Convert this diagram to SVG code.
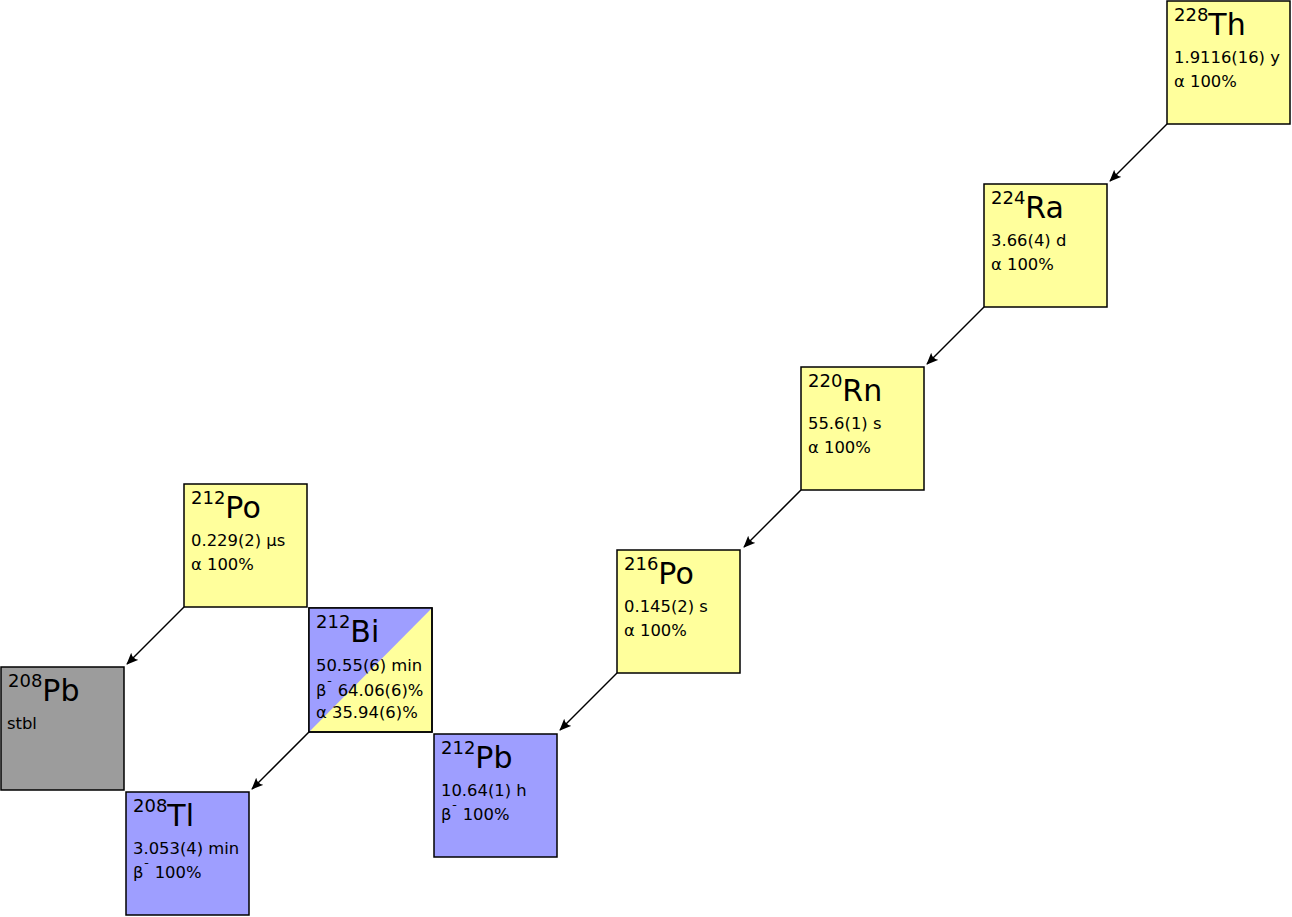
<svg xmlns="http://www.w3.org/2000/svg" width="1292" height="917" viewBox="0 0 1292 917">
<defs>
<style>
.box{stroke:#000;stroke-width:1.5}
.a{fill:#ffff9c}
.b{fill:#9e9eff}
.s{fill:#9c9c9c}
text{font-family:"DejaVu Sans","Liberation Sans",sans-serif;fill:#000}
.sup{font-size:18px}
.sym{font-size:30px}
.t{font-size:16.4px}
.m{font-size:12px}
.arr{stroke:#000;stroke-width:1.5;fill:none;marker-end:url(#ah)}
</style>
<marker id="ah" viewBox="0 0 14 12" refX="12" refY="6" markerWidth="13" markerHeight="11" orient="auto" markerUnits="userSpaceOnUse">
<path d="M0,0.5 L13,6 L0,11.5 Q4,6 0,0.5 Z" fill="#000"/>
</marker>
</defs>
<g id="connectors">
<line class="arr" x1="1167" y1="124" x2="1110" y2="181"/>
<line class="arr" x1="984" y1="307" x2="927" y2="364"/>
<line class="arr" x1="801" y1="490" x2="744" y2="547"/>
<line class="arr" x1="617" y1="673" x2="560" y2="730"/>
<line class="arr" x1="309" y1="732" x2="252" y2="789"/>
<line class="arr" x1="184" y1="607" x2="127" y2="664"/>
</g>
<g id="Th228">
<rect class="box a" x="1167" y="1" width="123" height="123"/>
<text x="1174" y="21"><tspan class="sup">228</tspan><tspan class="sym" dy="14">Th</tspan></text>
<text class="t" x="1174" y="63">1.9116(16) y</text>
<text class="t" x="1174" y="87">α 100%</text>
</g>
<g id="Ra224">
<rect class="box a" x="984" y="184" width="123" height="123"/>
<text x="991" y="204"><tspan class="sup">224</tspan><tspan class="sym" dy="14">Ra</tspan></text>
<text class="t" x="991" y="246">3.66(4) d</text>
<text class="t" x="991" y="270">α 100%</text>
</g>
<g id="Rn220">
<rect class="box a" x="801" y="367" width="123" height="123"/>
<text x="808" y="387"><tspan class="sup">220</tspan><tspan class="sym" dy="14">Rn</tspan></text>
<text class="t" x="808" y="429">55.6(1) s</text>
<text class="t" x="808" y="453">α 100%</text>
</g>
<g id="Po216">
<rect class="box a" x="617" y="550" width="123" height="123"/>
<text x="624" y="570"><tspan class="sup">216</tspan><tspan class="sym" dy="14">Po</tspan></text>
<text class="t" x="624" y="612">0.145(2) s</text>
<text class="t" x="624" y="636">α 100%</text>
</g>
<g id="Pb212">
<rect class="box b" x="434" y="734" width="123" height="123"/>
<text x="441" y="754"><tspan class="sup">212</tspan><tspan class="sym" dy="14">Pb</tspan></text>
<text class="t" x="441" y="796">10.64(1) h</text>
<text class="t" x="441" y="820">β<tspan class="m" dy="-6">ˉ</tspan><tspan dy="6"> 100%</tspan></text>
</g>
<g id="Bi212">
<rect class="box a" x="309" y="608" width="123" height="124"/>
<path class="b" d="M309,608 L432,608 L309,732 Z"/>
<rect x="309" y="608" width="123" height="124" fill="none" stroke="#000" stroke-width="1.5"/>
<text x="316" y="628"><tspan class="sup">212</tspan><tspan class="sym" dy="14">Bi</tspan></text>
<text class="t" x="316" y="671">50.55(6) min</text>
<text class="t" x="316" y="696">β<tspan class="m" dy="-6">ˉ</tspan><tspan dy="6"> 64.06(6)%</tspan></text>
<text class="t" x="316" y="718">α 35.94(6)%</text>
</g>
<g id="Po212">
<rect class="box a" x="184" y="484" width="123" height="123"/>
<text x="191" y="504"><tspan class="sup">212</tspan><tspan class="sym" dy="14">Po</tspan></text>
<text class="t" x="191" y="546">0.229(2) µs</text>
<text class="t" x="191" y="570">α 100%</text>
</g>
<g id="Pb208">
<rect class="box s" x="1" y="667" width="123" height="123"/>
<text x="8" y="687"><tspan class="sup">208</tspan><tspan class="sym" dy="14">Pb</tspan></text>
<text class="t" x="7" y="729">stbl</text>
</g>
<g id="Tl208">
<rect class="box b" x="126" y="792" width="123" height="123"/>
<text x="133" y="812"><tspan class="sup">208</tspan><tspan class="sym" dy="14">Tl</tspan></text>
<text class="t" x="133" y="854">3.053(4) min</text>
<text class="t" x="133" y="878">β<tspan class="m" dy="-6">ˉ</tspan><tspan dy="6"> 100%</tspan></text>
</g>
</svg>
